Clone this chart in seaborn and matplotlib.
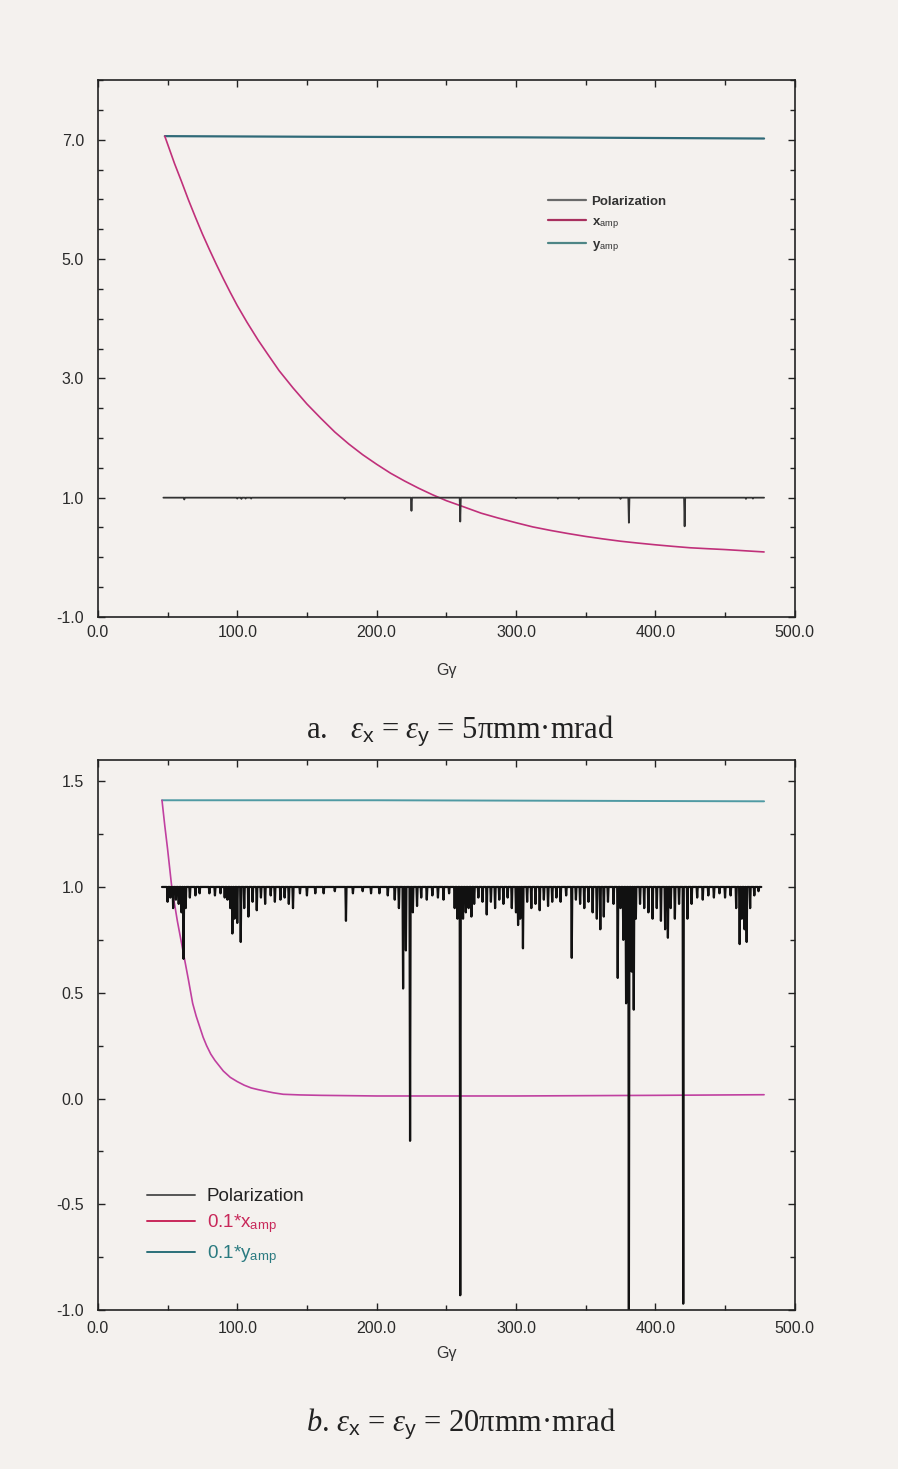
import numpy as np
import pandas as pd
import matplotlib
matplotlib.use("Agg")
import matplotlib.pyplot as plt
from matplotlib.ticker import MultipleLocator, FormatStrFormatter
from matplotlib.lines import Line2D
import seaborn as sns

# ---------------- panel a : 5 pi mm mrad ----------------
a_xamp_g = [48, 55, 60, 65, 70, 75, 80, 85, 90, 95, 100, 107, 115, 122, 130,
            140, 150, 160, 170, 180, 190, 200, 210, 220, 230, 240, 250, 262,
            275, 287, 300, 312, 325, 337, 350, 362, 375, 387, 400, 412, 425,
            437, 450, 464, 478]
a_xamp_v = [7.06, 6.60, 6.30, 5.99, 5.70, 5.42, 5.16, 4.91, 4.67, 4.44, 4.22,
            3.94, 3.64, 3.40, 3.13, 2.84, 2.57, 2.33, 2.10, 1.90, 1.72, 1.56,
            1.41, 1.28, 1.16, 1.05, 0.95, 0.85, 0.74, 0.66, 0.58, 0.51, 0.45,
            0.40, 0.35, 0.31, 0.27, 0.24, 0.21, 0.185, 0.16, 0.145, 0.13, 0.11,
            0.09]
a_yamp_g = [48, 150, 300, 478]
a_yamp_v = [7.06, 7.05, 7.04, 7.02]
a_pol_start, a_pol_end = 47, 478
a_dip_g = [62, 100, 103, 106, 110, 177, 225, 260, 300, 330, 345, 375, 381,
           421, 465, 470]
a_dip_v = [0.97, 0.985, 0.98, 0.985, 0.985, 0.98, 0.78, 0.60, 0.99, 0.985,
           0.98, 0.98, 0.58, 0.52, 0.98, 0.985]

# ---------------- panel b : 20 pi mm mrad ----------------
b_xamp_g = [46, 48, 50, 51.5, 53, 55, 57, 59, 61, 63, 65, 68, 70.5, 73, 75.5,
            78, 81, 84, 87, 90, 95, 100, 105, 110, 115, 120, 126, 133, 145,
            160, 200, 300, 400, 478]
b_xamp_v = [1.41, 1.29, 1.18, 1.09, 1.00, 0.92, 0.84, 0.77, 0.70, 0.63, 0.56,
            0.45, 0.39, 0.34, 0.29, 0.25, 0.21, 0.18, 0.155, 0.13, 0.10, 0.08,
            0.063, 0.05, 0.042, 0.035, 0.027, 0.02, 0.017, 0.015, 0.012,
            0.012, 0.015, 0.018]
b_yamp_g = [46, 200, 478]
b_yamp_v = [1.41, 1.41, 1.405]
b_pol_start, b_pol_end = 46, 476
b_dip_g = [50, 52, 54, 56, 58, 60, 61.5, 63, 66, 70, 73, 80, 84, 88, 91, 93,
           95, 96.5, 98, 100, 102.5, 105, 108, 111, 114, 117, 120, 124, 127,
           131, 134, 137, 140, 145, 150, 156, 162, 170, 178, 183, 190, 196,
           202, 208, 213, 216, 219, 221, 224, 226, 229, 232, 236, 240, 244,
           248, 252, 256, 258, 260, 262, 264, 266, 268, 270, 273, 276, 279,
           282, 285, 288, 291, 294, 297, 300, 301.5, 303, 305, 308, 311, 314,
           317, 320, 323, 326, 329, 332, 336, 340, 343, 346, 349, 352, 355,
           358, 360.5, 363, 366, 370, 373, 375, 377, 379, 381, 383, 384.5,
           386, 389, 392, 395, 398, 401, 404, 407, 409, 411, 414, 417, 420,
           423, 426, 430, 434, 438, 442, 446, 450, 454, 458, 460.5, 462, 464,
           465.5, 468, 471, 474]
b_dip_v = [0.93, 0.95, 0.90, 0.94, 0.92, 0.88, 0.66, 0.90, 0.95, 0.96, 0.97,
           0.97, 0.96, 0.97, 0.95, 0.94, 0.90, 0.78, 0.85, 0.83, 0.74, 0.90,
           0.86, 0.93, 0.89, 0.95, 0.92, 0.96, 0.93, 0.94, 0.95, 0.92, 0.90,
           0.97, 0.96, 0.97, 0.97, 0.98, 0.84, 0.97, 0.98, 0.97, 0.97, 0.96,
           0.94, 0.90, 0.52, 0.70, -0.20, 0.88, 0.91, 0.95, 0.94, 0.96, 0.95,
           0.94, 0.97, 0.90, 0.85, -0.93, 0.85, 0.88, 0.90, 0.86, 0.92, 0.95,
           0.93, 0.87, 0.93, 0.90, 0.94, 0.92, 0.95, 0.90, 0.88, 0.82, 0.85,
           0.71, 0.93, 0.90, 0.92, 0.89, 0.94, 0.91, 0.93, 0.95, 0.93, 0.96,
           0.665, 0.94, 0.92, 0.90, 0.93, 0.88, 0.85, 0.80, 0.86, 0.93, 0.92,
           0.57, 0.90, 0.75, 0.45, -1.00, 0.60, 0.42, 0.85, 0.92, 0.90, 0.88,
           0.85, 0.90, 0.84, 0.80, 0.76, 0.90, 0.85, 0.92, -0.97, 0.85, 0.92,
           0.95, 0.94, 0.96, 0.95, 0.97, 0.95, 0.96, 0.90, 0.73, 0.85, 0.80,
           0.74, 0.90, 0.96, 0.98]

captions = [r"a.   $\varepsilon_{\mathsf{x}}$ = $\varepsilon_{\mathsf{y}}$ = 5πmm·mrad",
            r"$b$. $\varepsilon_{\mathsf{x}}$ = $\varepsilon_{\mathsf{y}}$ = 20πmm·mrad"]


def pol_frame(g0, g1, dg, dv, half=0.4):
    xs, ys = [g0], [1.0]
    for g, v in zip(dg, dv):
        xs += [g - half, g, g + half]
        ys += [1.0, v, 1.0]
    xs.append(g1)
    ys.append(1.0)
    return pd.DataFrame({"g": xs, "v": ys})


sns.set_theme(style="ticks")
PAPER = "#f4f1ee"
plt.rcParams.update({
    "font.family": ["Liberation Sans", "DejaVu Sans"],
    "mathtext.fontset": "custom",
    "mathtext.rm": "Liberation Serif",
    "mathtext.it": "Liberation Serif:italic",
    "mathtext.bf": "Liberation Serif:bold",
    "mathtext.sf": "Liberation Sans",
    "mathtext.fallback": "stix",
    "figure.facecolor": PAPER,
    "axes.facecolor": PAPER,
    "axes.edgecolor": "#222222",
    "axes.linewidth": 1.2,
})

fig = plt.figure(figsize=(8.98, 14.69), dpi=100)
ax1 = fig.add_axes([0.109, 0.580, 0.776, 0.3655])
ax2 = fig.add_axes([0.109, 0.1082, 0.776, 0.3744])

# ---- panel a ----
sns.lineplot(data=pd.DataFrame({"g": a_yamp_g, "v": a_yamp_v}), x="g", y="v",
             ax=ax1, color="#2f6a78", lw=1.6, estimator=None, sort=False)
sns.lineplot(data=pd.DataFrame({"g": a_xamp_g, "v": a_xamp_v}), x="g", y="v",
             ax=ax1, color="#c0307a", lw=1.2, estimator=None, sort=False)
sns.lineplot(data=pol_frame(a_pol_start, a_pol_end, a_dip_g, a_dip_v), x="g",
             y="v", ax=ax1, color="#333333", lw=1.3, estimator=None, sort=False)
ax1.set_xlim(0, 500)
ax1.set_ylim(-1, 8)
ax1.yaxis.set_minor_locator(MultipleLocator(0.5))
ax1.set_yticks([-1, 1, 3, 5, 7])

# ---- panel b ----
sns.lineplot(data=pd.DataFrame({"g": b_yamp_g, "v": b_yamp_v}), x="g", y="v",
             ax=ax2, color="#4f9aa3", lw=1.4, estimator=None, sort=False)
sns.lineplot(data=pd.DataFrame({"g": b_xamp_g, "v": b_xamp_v}), x="g", y="v",
             ax=ax2, color="#c040a0", lw=1.2, estimator=None, sort=False)
sns.lineplot(data=pol_frame(b_pol_start, b_pol_end, b_dip_g, b_dip_v), x="g",
             y="v", ax=ax2, color="#111111", lw=1.6, estimator=None, sort=False)
ax2.set_xlim(0, 500)
ax2.set_ylim(-1, 1.6)
ax2.set_yticks([-1, -0.5, 0, 0.5, 1.0, 1.5])
ax2.yaxis.set_minor_locator(MultipleLocator(0.25))

for ax, xpad, lpad in ((ax1, 6, 16), (ax2, 8, 7)):
    ax.xaxis.set_major_locator(MultipleLocator(100))
    ax.xaxis.set_minor_locator(MultipleLocator(50))
    ax.xaxis.set_major_formatter(FormatStrFormatter("%.1f"))
    ax.yaxis.set_major_formatter(FormatStrFormatter("%.1f"))
    ax.tick_params(which="both", direction="in", top=True, right=True,
                   color="#222222", width=1.0)
    ax.tick_params(which="major", length=5, labelsize=11.5,
                   labelcolor="#2a2a2a")
    ax.tick_params(which="minor", length=3.5)
    ax.tick_params(axis="y", pad=10)
    ax.tick_params(axis="x", pad=xpad)
    ax.set_xlabel("Gγ", fontsize=11.5, color="#333333", labelpad=lpad)
    ax.set_ylabel("")
    for s in ax.spines.values():
        s.set_visible(True)

# legends
h1 = [Line2D([], [], color="#6a6a6a", lw=1.6),
      Line2D([], [], color="#a8305e", lw=1.6),
      Line2D([], [], color="#4d8585", lw=1.6)]
leg1 = ax1.legend(h1, ["Polarization", r"x$_{\mathsf{amp}}$", r"y$_{\mathsf{amp}}$"],
                  loc="upper left", bbox_to_anchor=(0.646, 0.785), frameon=False,
                  fontsize=9.5, handlelength=2.9, handletextpad=0.4,
                  labelspacing=0.6, borderpad=0, borderaxespad=0)
for t in leg1.get_texts():
    t.set_color("#333333")
    t.set_fontweight("bold")

h2 = [Line2D([], [], color="#555555", lw=1.4),
      Line2D([], [], color="#c8285a", lw=1.4),
      Line2D([], [], color="#2a6f78", lw=1.4)]
leg2 = ax2.legend(h2, ["Polarization", r"0.1*x$_{\mathsf{amp}}$", r"0.1*y$_{\mathsf{amp}}$"],
                  loc="upper left", bbox_to_anchor=(0.070, 0.222), frameon=False,
                  fontsize=13.5, handlelength=2.6, handletextpad=0.6,
                  labelspacing=0.4, borderpad=0, borderaxespad=0)
for t, c in zip(leg2.get_texts(), ["#222222", "#c8285a", "#2a7a80"]):
    t.set_color(c)

fig.text(0.513, 0.5025, captions[0], ha="center", va="center", fontsize=22,
         family=["Liberation Serif", "DejaVu Serif"], color="#222222")
fig.text(0.513, 0.031, captions[1], ha="center", va="center", fontsize=22,
         family=["Liberation Serif", "DejaVu Serif"], color="#222222")

fig.savefig("out.png", dpi=100, facecolor=PAPER)
